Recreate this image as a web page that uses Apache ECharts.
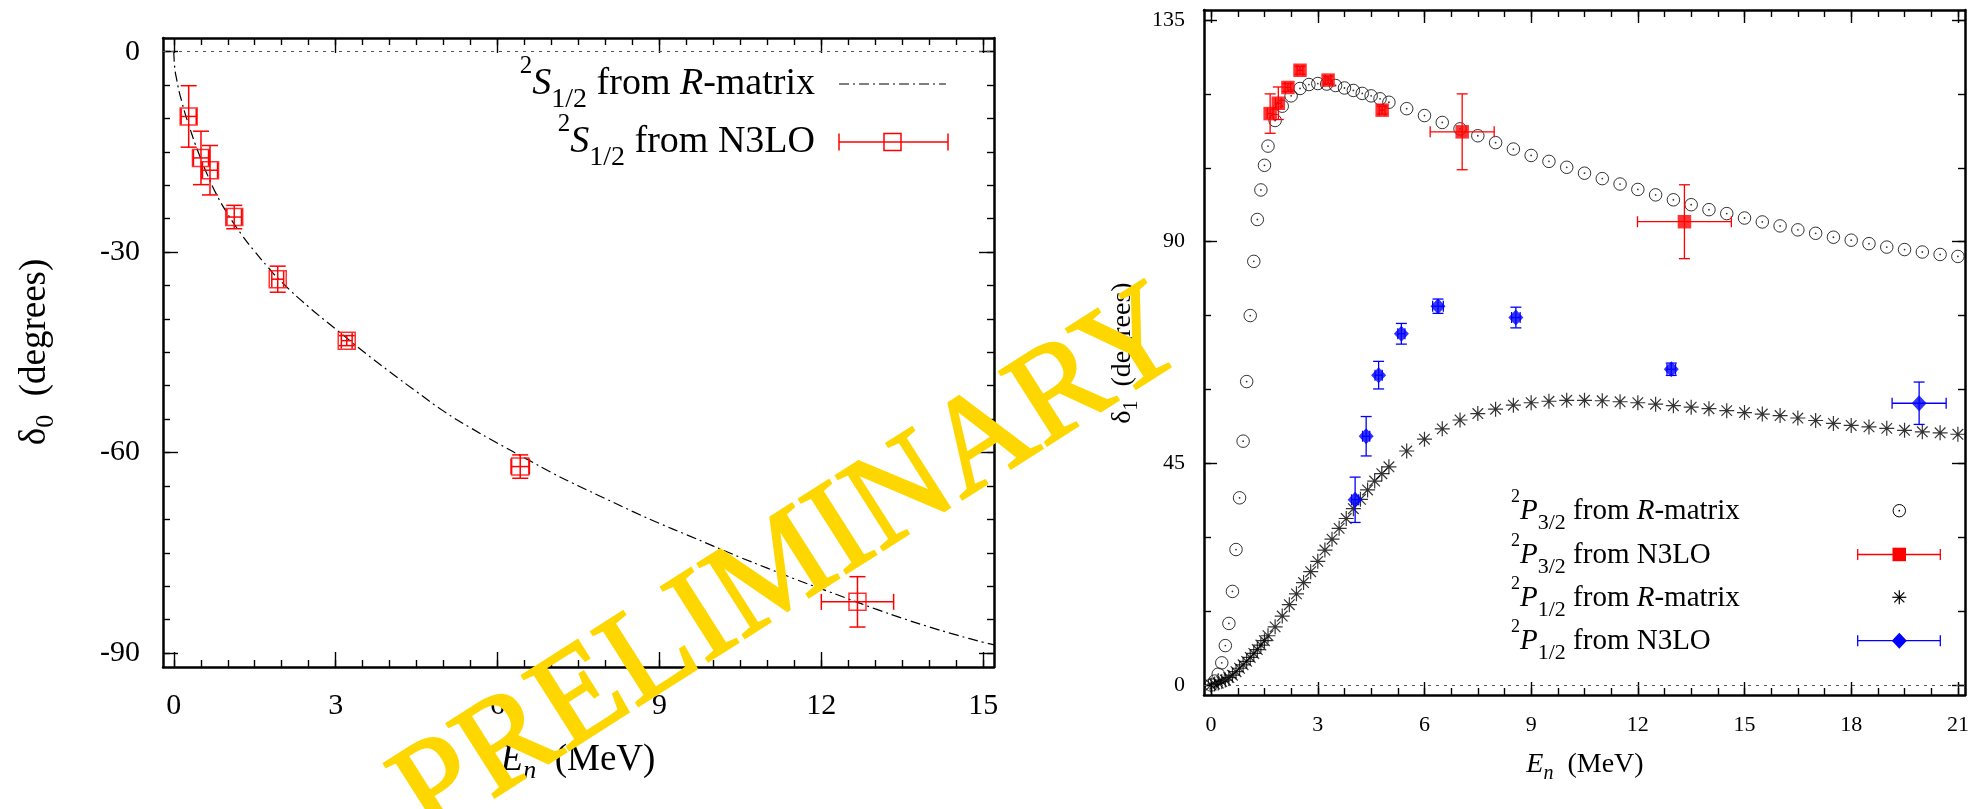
<!DOCTYPE html>
<html>
<head>
<meta charset="utf-8">
<script src="https://cdn.jsdelivr.net/npm/echarts@6/dist/echarts.min.js"></script>
<style>
html,body{margin:0;padding:0;background:#fff;}
#chart{width:1988px;height:809px;}
</style>
</head>
<body>
<div id="chart"></div>
<script>
// ---------------- DATA ----------------
// Left panel: 2S1/2 phase shift
const E_S_RM = [0, 0.02, 0.05, 0.1, 0.15, 0.2, 0.3, 0.4, 0.5, 0.6, 0.8, 1.0, 1.25, 1.5, 1.75, 2.0, 2.5, 3.0, 3.5, 4.0, 4.5, 5.0, 5.5, 6.0, 6.5, 7.0, 7.5, 8.0, 8.5, 9.0, 9.5, 10.0, 10.5, 11.0, 11.5, 12.0, 12.5, 13.0, 13.5, 14.0, 14.5, 15.0, 15.2];
const D_S_RM = [0, -2.6, -4.0, -6.0, -7.5, -9.0, -11.5, -13.9, -16.0, -18.0, -21.5, -24.3, -27.3, -29.9, -32.3, -34.5, -38.2, -41.5, -44.8, -47.9, -50.9, -53.8, -56.3, -58.6, -60.8, -63.0, -65.0, -66.9, -68.8, -70.6, -72.3, -74.0, -75.7, -77.3, -78.9, -80.4, -81.9, -83.4, -84.8, -86.1, -87.3, -88.4, -88.8];
const E_S_N3 = [0.276, 0.504, 0.671, 1.12, 1.926, 3.205, 6.42, 12.67];
const D_S_N3 = [-9.69, -15.9, -17.74, -24.75, -34.05, -43.25, -62.1, -82.35];
const XERR_S_N3 = [0.14, 0.14, 0.14, 0.135, 0.11, 0.1, 0.17, 0.67];
const YERR_S_N3 = [4.6, 4.0, 3.7, 1.75, 1.95, 0.75, 1.75, 3.77];

// Right panel: 2P3/2 and 2P1/2 phase shifts
const E_P3_RM = [0, 0.1, 0.2, 0.3, 0.4, 0.5, 0.6, 0.7, 0.8, 0.9, 1.0, 1.1, 1.2, 1.3, 1.4, 1.5, 1.6, 1.8, 2.0, 2.25, 2.5, 2.75, 3.0, 3.25, 3.5, 3.75, 4.0, 4.25, 4.5, 4.75, 5.0, 5.5, 6.0, 6.5, 7.0, 7.5, 8.0, 8.5, 9.0, 9.5, 10.0, 10.5, 11.0, 11.5, 12.0, 12.5, 13.0, 13.5, 14.0, 14.5, 15.0, 15.5, 16.0, 16.5, 17.0, 17.5, 18.0, 18.5, 19.0, 19.5, 20.0, 20.5, 21.0];
const D_P3_RM = [0, 0.8, 2.2, 4.5, 8.0, 12.5, 19.0, 27.5, 38.0, 49.5, 61.6, 75.0, 86.0, 94.5, 100.5, 105.5, 109.4, 114.6, 117.5, 119.6, 121.1, 121.9, 122.1, 122.0, 121.7, 121.2, 120.7, 120.1, 119.6, 119.0, 118.3, 117.0, 115.6, 114.2, 112.9, 111.5, 110.1, 108.8, 107.5, 106.3, 105.1, 103.9, 102.8, 101.7, 100.6, 99.5, 98.5, 97.5, 96.5, 95.7, 94.8, 94.0, 93.2, 92.4, 91.7, 90.9, 90.3, 89.6, 88.9, 88.4, 87.9, 87.4, 87.0];
const E_P1_RM = [0, 0.1, 0.2, 0.3, 0.4, 0.5, 0.6, 0.7, 0.8, 0.9, 1.0, 1.1, 1.2, 1.3, 1.4, 1.5, 1.6, 1.8, 2.0, 2.2, 2.4, 2.6, 2.8, 3.0, 3.2, 3.4, 3.6, 3.8, 4.0, 4.2, 4.4, 4.6, 4.8, 5.0, 5.5, 6.0, 6.5, 7.0, 7.5, 8.0, 8.5, 9.0, 9.5, 10.0, 10.5, 11.0, 11.5, 12.0, 12.5, 13.0, 13.5, 14.0, 14.5, 15.0, 15.5, 16.0, 16.5, 17.0, 17.5, 18.0, 18.5, 19.0, 19.5, 20.0, 20.5, 21.0];
const D_P1_RM = [0, 0.2, 0.4, 0.7, 1.0, 1.5, 2.0, 2.7, 3.4, 4.1, 4.8, 5.6, 6.4, 7.2, 8.1, 9.0, 10.0, 11.8, 14.0, 16.3, 18.5, 20.8, 23.0, 25.1, 27.4, 29.6, 31.8, 33.8, 35.8, 37.7, 39.6, 41.4, 42.9, 44.3, 47.5, 49.9, 52.0, 53.8, 55.1, 56.0, 56.8, 57.3, 57.6, 57.8, 57.8, 57.7, 57.5, 57.3, 57.0, 56.7, 56.4, 56.1, 55.7, 55.3, 55.0, 54.7, 54.2, 53.7, 53.1, 52.7, 52.4, 52.1, 51.7, 51.4, 51.2, 50.9];
const E_P3_N3 = [1.66, 1.89, 2.16, 2.50, 3.29, 4.81, 7.06, 13.31];
const D_P3_N3 = [116.0, 118.1, 121.3, 124.8, 122.8, 116.7, 112.3, 94.05];
const XERR_P3_N3 = [0.08, 0.08, 0.08, 0.08, 0.08, 0.08, 0.9, 1.32];
const YERR_P3_N3 = [4.0, 3.3, 0.8, 0.8, 0.8, 0.8, 7.7, 7.5];
const E_P1_N3 = [4.05, 4.36, 4.71, 5.35, 6.38, 8.57, 12.94, 19.91];
const D_P1_N3 = [37.6, 50.5, 62.9, 71.3, 76.9, 74.6, 64.1, 57.2];
const XERR_P1_N3 = [0.1, 0.1, 0.1, 0.1, 0.15, 0.12, 0.12, 0.76];
const YERR_P1_N3 = [4.6, 4.0, 2.8, 2.1, 1.45, 2.1, 1.25, 4.3];

// Axis ticks
const L_X_MAJOR = [0, 3, 6, 9, 12, 15];
const L_Y_MAJOR = [0, -30, -60, -90];
const R_X_MAJOR = [0, 3, 6, 9, 12, 15, 18, 21];
const R_Y_MAJOR = [0, 45, 90, 135];
const L_X_MINOR_STEP = 0.5, L_Y_MINOR_STEP = 5, R_X_MINOR_STEP = 0.75, R_Y_MINOR_STEP = 15;

// ---------------- HELPERS ----------------
const SERIF = 'Liberation Serif';
function range(a, b, s) { const r = []; for (let v = a; v <= b + 1e-9; v += s) r.push(+v.toFixed(4)); return r; }
function zip2(a, b) { return a.map((v, i) => [v, b[i]]); }
function zip4(a, b, c, d) { return a.map((v, i) => [v, b[i], c[i], d[i]]); }

const L_X_MINOR = range(0, 15, L_X_MINOR_STEP);
const L_Y_MINOR = range(-90, 0, L_Y_MINOR_STEP);
const R_X_MINOR = range(0, 21, R_X_MINOR_STEP);
const R_Y_MINOR = range(0, 135, R_Y_MINOR_STEP);

const LX = [-0.2, 15.2], LY = [-92.1, 2.05];
const RX = [-0.2, 21.2], RY = [-2.03, 137.03];

function axisSet(grid, mn, mx, major, minor, posA, posB, majLen, minLen, labelFont, margin) {
  const base = {type: 'value', gridIndex: grid, min: mn, max: mx, splitLine: {show: false}, silent: true,
    axisLine: {show: false, onZero: false}, axisLabel: {show: false}, axisTick: {show: false}};
  const lineStyle = {color: '#000', width: 2.5};
  const tickStyle = {color: '#000', width: 1.4};
  return [
    Object.assign({}, base, {position: posA,
      axisLine: {show: true, onZero: false, lineStyle},
      axisTick: {show: true, inside: true, length: majLen, customValues: major, lineStyle: tickStyle},
      axisLabel: {show: true, customValues: major, fontFamily: SERIF, fontSize: labelFont, color: '#000', margin: margin}}),
    Object.assign({}, base, {position: posA,
      axisTick: {show: true, inside: true, length: minLen, customValues: minor, lineStyle: tickStyle}}),
    Object.assign({}, base, {position: posB,
      axisLine: {show: true, onZero: false, lineStyle},
      axisTick: {show: true, inside: true, length: majLen, customValues: major, lineStyle: tickStyle}}),
    Object.assign({}, base, {position: posB,
      axisTick: {show: true, inside: true, length: minLen, customValues: minor, lineStyle: tickStyle}})
  ];
}

function errRender(capPx, color, lw) {
  return function (params, api) {
    const x = api.value(0), y = api.value(1), xe = api.value(2), ye = api.value(3);
    const pl = api.coord([x - xe, y]), pr = api.coord([x + xe, y]);
    const pt = api.coord([x, y + ye]), pb = api.coord([x, y - ye]);
    const st = {stroke: color, lineWidth: lw};
    const L = (x1, y1, x2, y2) => ({type: 'line', shape: {x1, y1, x2, y2}, style: st});
    return {type: 'group', children: [
      L(pl[0], pl[1], pr[0], pr[1]), L(pl[0], pl[1] - capPx, pl[0], pl[1] + capPx), L(pr[0], pr[1] - capPx, pr[0], pr[1] + capPx),
      L(pt[0], pt[1], pb[0], pb[1]), L(pt[0] - capPx, pt[1], pt[0] + capPx, pt[1]), L(pb[0] - capPx, pb[1], pb[0] + capPx, pb[1])
    ]};
  };
}

const STAR = 'path://M0,-1L0,1M-1,0L1,0M-0.707,-0.707L0.707,0.707M-0.707,0.707L0.707,-0.707';
const RED = '#ff0000', BLUE = '#0000ff', GOLD = '#FFD700';

// rich text styles
function richSet(fs, sps, sbs, L, hs, hb) {
  return {
    n: {fontFamily: SERIF, fontSize: fs, lineHeight: L, fill: '#000'},
    it: {fontFamily: SERIF, fontStyle: 'italic', fontSize: fs, lineHeight: L, fill: '#000'},
    sup: {fontFamily: SERIF, fontSize: sps, lineHeight: hs, verticalAlign: 'top', fill: '#000'},
    sub: {fontFamily: SERIF, fontSize: sbs, lineHeight: hb, verticalAlign: 'bottom', fill: '#000'},
    isub: {fontFamily: SERIF, fontStyle: 'italic', fontSize: sbs, lineHeight: hb, verticalAlign: 'bottom', fill: '#000'}
  };
}
const RICH_LL = richSet(38, 25, 28, 60, 30, 29);
const RICH_RL = richSet(29, 18, 22, 46, 19, 24);
const RICH_LT = richSet(37, 26, 26, 48, 26, 26);
const RICH_RT = richSet(28, 20, 20, 38, 20, 20);

function txt(x, y, text, rich, align, rot) {
  return {type: 'text', x, y, rotation: rot || 0, silent: true, z: 50,
    style: {text, rich, align, verticalAlign: 'middle', fontFamily: SERIF}};
}
function gline(x1, y1, x2, y2, color, lw, dash) {
  return {type: 'line', silent: true, z: 50, shape: {x1, y1, x2, y2}, style: {stroke: color, lineWidth: lw, lineDash: dash || null}};
}

// ---------------- CHART ----------------
const chart = echarts.init(document.getElementById('chart'), null, {renderer: 'canvas'});

const xAxes = [].concat(
  axisSet(0, LX[0], LX[1], L_X_MAJOR, L_X_MINOR, 'bottom', 'top', 15, 7, 30, 24),
  axisSet(1, RX[0], RX[1], R_X_MAJOR, R_X_MINOR, 'bottom', 'top', 13, 7, 22, 19)
);
const yAxes = [].concat(
  axisSet(0, LY[0], LY[1], L_Y_MAJOR, L_Y_MINOR, 'left', 'right', 15, 7, 30, 23),
  axisSet(1, RY[0], RY[1], R_Y_MAJOR, R_Y_MINOR, 'left', 'right', 13, 7, 22, 19)
);

const zeroLine = {silent: true, symbol: ['none', 'none'], label: {show: false},
  lineStyle: {color: '#555', width: 1, type: [3, 5]}, data: [{yAxis: 0}]};

const option = {
  animation: false,
  backgroundColor: '#fff',
  grid: [
    {left: 163, top: 38, width: 831, height: 629},
    {left: 1204, top: 10, width: 761, height: 685}
  ],
  xAxis: xAxes,
  yAxis: yAxes,
  series: [
    // Left: R-matrix curve
    {type: 'line', xAxisIndex: 0, yAxisIndex: 0, data: zip2(E_S_RM, D_S_RM), showSymbol: false, smooth: true,
      lineStyle: {color: '#000', width: 1.2, type: [10, 4, 2, 4]}, silent: true, z: 3, markLine: zeroLine},
    // Left: N3LO error bars
    {type: 'custom', xAxisIndex: 0, yAxisIndex: 0, data: zip4(E_S_N3, D_S_N3, XERR_S_N3, YERR_S_N3),
      renderItem: errRender(8, RED, 1.5), silent: true, z: 4},
    {type: 'scatter', xAxisIndex: 0, yAxisIndex: 0, data: zip2(E_S_N3, D_S_N3), symbol: 'rect', symbolSize: 17,
      itemStyle: {color: 'rgba(0,0,0,0)', borderColor: RED, borderWidth: 1.5}, silent: true, z: 5},

    // Right: P3/2 R-matrix circles
    {type: 'scatter', xAxisIndex: 4, yAxisIndex: 4, data: zip2(E_P3_RM, D_P3_RM), symbol: 'circle', symbolSize: 12.5,
      itemStyle: {color: 'rgba(0,0,0,0)', borderColor: '#000', borderWidth: 1}, silent: true, z: 3, markLine: zeroLine},
    {type: 'scatter', xAxisIndex: 4, yAxisIndex: 4, data: zip2(E_P3_RM, D_P3_RM), symbol: 'circle', symbolSize: 1.8,
      itemStyle: {color: '#000'}, silent: true, z: 3},
    // Right: P1/2 R-matrix stars
    {type: 'scatter', xAxisIndex: 4, yAxisIndex: 4, data: zip2(E_P1_RM, D_P1_RM), symbol: STAR, symbolSize: 15,
      itemStyle: {color: 'rgba(0,0,0,0)', borderColor: '#000', borderWidth: 1.2}, silent: true, z: 3},
    // Right: P3/2 N3LO
    {type: 'custom', xAxisIndex: 4, yAxisIndex: 4, data: zip4(E_P3_N3, D_P3_N3, XERR_P3_N3, YERR_P3_N3),
      renderItem: errRender(5.5, RED, 1.3), silent: true, z: 4},
    {type: 'scatter', xAxisIndex: 4, yAxisIndex: 4, data: zip2(E_P3_N3, D_P3_N3), symbol: 'rect', symbolSize: 13.5,
      itemStyle: {color: RED}, silent: true, z: 5},
    // Right: P1/2 N3LO
    {type: 'custom', xAxisIndex: 4, yAxisIndex: 4, data: zip4(E_P1_N3, D_P1_N3, XERR_P1_N3, YERR_P1_N3),
      renderItem: errRender(5.5, BLUE, 1.3), silent: true, z: 4},
    {type: 'scatter', xAxisIndex: 4, yAxisIndex: 4, data: zip2(E_P1_N3, D_P1_N3), symbol: 'diamond', symbolSize: [15, 16],
      itemStyle: {color: BLUE}, silent: true, z: 5}
  ],
  graphic: [
    // axis titles
    txt(578, 760, '{it|E}{isub|n}{n|  (MeV)}', RICH_LT, 'center'),
    txt(35, 352, '{n|δ}{sub|0}{n|  (degrees)}', RICH_LT, 'center', Math.PI / 2),
    txt(1585, 765, '{it|E}{isub|n}{n|  (MeV)}', RICH_RT, 'center'),
    txt(1123, 353, '{n|δ}{sub|1}{n|  (degrees)}', RICH_RT, 'center', Math.PI / 2),

    // left legend
    txt(815, 84, '{sup|2}{it|S}{sub|1/2}{n| from }{it|R}{n|-matrix}', RICH_LL, 'right'),
    txt(815, 142, '{sup|2}{it|S}{sub|1/2}{n| from N3LO}', RICH_LL, 'right'),
    gline(839, 84, 946, 84, '#000', 1.2, [10, 4, 2, 4]),
    gline(839, 142, 948, 142, RED, 1.5),
    gline(839, 133.5, 839, 150.5, RED, 1.5),
    gline(948, 133.5, 948, 150.5, RED, 1.5),
    {type: 'rect', silent: true, z: 50, shape: {x: 884, y: 133.5, width: 17, height: 17}, style: {fill: 'none', stroke: RED, lineWidth: 1.5}},

    // right legend
    txt(1511, 511.5, '{sup|2}{it|P}{sub|3/2}{n| from }{it|R}{n|-matrix}', RICH_RL, 'left'),
    txt(1511, 555, '{sup|2}{it|P}{sub|3/2}{n| from N3LO}', RICH_RL, 'left'),
    txt(1511, 598, '{sup|2}{it|P}{sub|1/2}{n| from }{it|R}{n|-matrix}', RICH_RL, 'left'),
    txt(1511, 641.5, '{sup|2}{it|P}{sub|1/2}{n| from N3LO}', RICH_RL, 'left'),
    {type: 'circle', silent: true, z: 50, shape: {cx: 1899.3, cy: 510.7, r: 6.2}, style: {fill: 'none', stroke: '#000', lineWidth: 1}},
    {type: 'circle', silent: true, z: 50, shape: {cx: 1899.3, cy: 510.7, r: 0.9}, style: {fill: '#000'}},
    gline(1857.7, 554.5, 1940.3, 554.5, RED, 1.3),
    gline(1857.7, 549, 1857.7, 560, RED, 1.3),
    gline(1940.3, 549, 1940.3, 560, RED, 1.3),
    {type: 'rect', silent: true, z: 50, shape: {x: 1892.5, y: 547.7, width: 13.5, height: 13.5}, style: {fill: RED}},
    gline(1899.3, 590.3, 1899.3, 604.3, '#000', 1.2),
    gline(1892.3, 597.3, 1906.3, 597.3, '#000', 1.2),
    gline(1894.3, 592.3, 1904.3, 602.3, '#000', 1.2),
    gline(1894.3, 602.3, 1904.3, 592.3, '#000', 1.2),
    gline(1857.7, 640.7, 1940.3, 640.7, BLUE, 1.3),
    gline(1857.7, 635.2, 1857.7, 646.2, BLUE, 1.3),
    gline(1940.3, 635.2, 1940.3, 646.2, BLUE, 1.3),
    {type: 'polygon', silent: true, z: 50, shape: {points: [[1899.3, 632.7], [1906.8, 640.7], [1899.3, 648.7], [1891.8, 640.7]]}, style: {fill: BLUE}},

    // watermark
    {type: 'text', x: 792, y: 566, rotation: 32.5 * Math.PI / 180, silent: true, z: 1000,
      style: {text: 'PRELIMINARY', fontFamily: SERIF, fontSize: 134, fill: GOLD, stroke: GOLD, lineWidth: 2.5,
        align: 'center', verticalAlign: 'middle'}}
  ]
};
chart.setOption(option);
</script>
</body>
</html>
